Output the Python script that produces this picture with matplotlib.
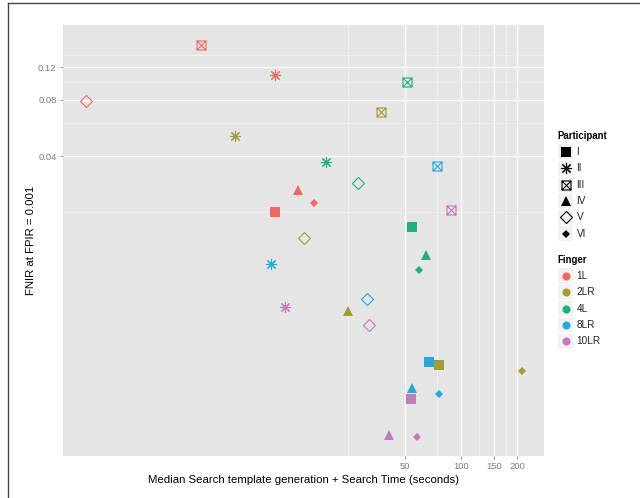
import matplotlib
matplotlib.use("Agg")
import matplotlib.pyplot as plt
from matplotlib.path import Path
from matplotlib.patches import Rectangle
from matplotlib.ticker import FixedLocator, NullFormatter

plt.rcParams['font.family'] = ['Liberation Sans', 'DejaVu Sans']

participants = ['I', 'II', 'III', 'IV', 'V', 'VI']
fingers = ['1L', '2LR', '4L', '8LR', '10LR']

# median search time (s), rows = finger, cols = participant
search_time = [
    [10.2, 10.2, 4.06, 13.5, 0.99, 16.5],
    [76.8, 6.22, 37.6, 24.9, 14.5, 212.0],
    [55.0, 19.0, 51.8, 64.9, 28.3, 59.6],
    [67.9, 9.66, 74.6, 54.8, 31.6, 76.8],
    [54.4, 11.5, 88.3, 41.3, 32.2, 58.1],
]
# FNIR at FPIR = 0.001
fnir = [
    [0.0200, 0.1083, 0.1574, 0.0263, 0.0792, 0.0224],
    [0.00302, 0.0514, 0.0686, 0.00593, 0.0145, 0.00282],
    [0.0166, 0.0371, 0.0993, 0.0118, 0.0288, 0.00979],
    [0.00313, 0.0106, 0.0354, 0.00228, 0.00684, 0.00212],
    [0.00200, 0.00623, 0.0205, 0.00127, 0.00498, 0.00125],
]

x_ticks = [50, 100, 150, 200]
x_minor = [25, 75, 125, 175]
y_ticks = [0.04, 0.08, 0.12]
y_minor = [0.02, 0.06, 0.10, 0.14]

colors = ['#F0675F', '#A09E33', '#1FB17B', '#21A9E0', '#C27AB8']

# square with an X inside (ggplot shape 7)
boxx = Path([(-1, -1), (1, -1), (1, 1), (-1, 1), (-1, -1),
             (-1, -1), (1, 1), (-1, 1), (1, -1)],
            [Path.MOVETO, Path.LINETO, Path.LINETO, Path.LINETO, Path.CLOSEPOLY,
             Path.MOVETO, Path.LINETO, Path.MOVETO, Path.LINETO])

# marker, size, filled
shapes = [
    ('s', 6.5, True),
    ((8, 2, 0), 8.0, False),
    (boxx, 6.5, False),
    ('^', 7.3, True),
    ('D', 6.0, False),
    ('D', 3.8, True),
]


def style(shape, col):
    m, ms, filled = shape
    if filled:
        return dict(marker=m, markersize=ms, markerfacecolor=col,
                    markeredgewidth=0, linestyle='none')
    return dict(marker=m, markersize=ms, markerfacecolor='none',
                markeredgecolor=col, markeredgewidth=0.8, linestyle='none')


W, H = 640, 498
fig = plt.figure(figsize=(W / 100, H / 100), dpi=100)
L, R, T, B = 62.7, 544, 25, 455.7
ax = fig.add_axes([L / W, 1 - B / H, (R - L) / W, (B - T) / H])
ax.set_facecolor('#E5E5E5')

for fi, col in enumerate(colors):
    for pi, shape in enumerate(shapes):
        ax.plot(search_time[fi][pi], fnir[fi][pi], **style(shape, col))

ax.set_xscale('log')
ax.set_yscale('log')
ax.set_xlim(0.743, 278.6)
ax.set_ylim(0.000989, 0.2016)

ax.xaxis.set_major_locator(FixedLocator(x_ticks))
ax.xaxis.set_minor_locator(FixedLocator(x_minor))
ax.yaxis.set_major_locator(FixedLocator(y_ticks))
ax.yaxis.set_minor_locator(FixedLocator(y_minor))
ax.set_xticklabels([str(v) for v in x_ticks])
ax.set_yticklabels([f'{v:.2f}' for v in y_ticks])
ax.xaxis.set_minor_formatter(NullFormatter())
ax.yaxis.set_minor_formatter(NullFormatter())

ax.grid(which='major', color='white', linewidth=0.9)
ax.grid(which='minor', color='#F4F4F4', linewidth=0.55)
ax.set_axisbelow(True)
for s in ax.spines.values():
    s.set_visible(False)
ax.tick_params(which='major', length=2.4, width=0.6, color='#7F7F7F',
               labelcolor='#7F7F7F', labelsize=6.8, pad=2)
ax.tick_params(which='minor', length=0)

ax.set_xlabel('Median Search template generation + Search Time (seconds)',
              fontsize=8.2, labelpad=3)
ax.set_ylabel('FNIR at FPIR = 0.001', fontsize=8.2, labelpad=1.5)

# overlay in pixel coords for legend and frame
ov = fig.add_axes([0, 0, 1, 1])
ov.set_xlim(0, W)
ov.set_ylim(H, 0)
ov.axis('off')
ov.patch.set_alpha(0)

ov.plot([7.5, 7.5], [3, H], color='#444444', lw=1.0)
ov.plot([7.5, W], [3, 3], color='#444444', lw=1.0)

kx, step, ks = 565.7, 16.4, 15.2
ov.text(557.5, 135.5, 'Participant', fontsize=6.9, fontweight='bold',
        va='center', ha='left')
for i, (lab, shape) in enumerate(zip(participants, shapes)):
    y = 151.7 + i * step
    ov.add_patch(Rectangle((kx - ks / 2, y - ks / 2), ks, ks,
                           facecolor='#F2F2F2', edgecolor='none'))
    ov.plot(kx, y, **style(shape, 'black'))
    ov.text(576.5, y, lab, fontsize=7.2, va='center', ha='left', color='#222222')

ov.text(557.5, 259.5, 'Finger', fontsize=6.9, fontweight='bold',
        va='center', ha='left')
for i, (lab, col) in enumerate(zip(fingers, colors)):
    y = 275.7 + i * step
    ov.add_patch(Rectangle((kx - ks / 2, y - ks / 2), ks, ks,
                           facecolor='#F2F2F2', edgecolor='none'))
    ov.plot(kx, y, marker='o', markersize=5.8, markerfacecolor=col,
            markeredgewidth=0, linestyle='none')
    ov.text(576.5, y, lab, fontsize=7.2, va='center', ha='left', color='#222222')

fig.savefig('out.png', dpi=100)
